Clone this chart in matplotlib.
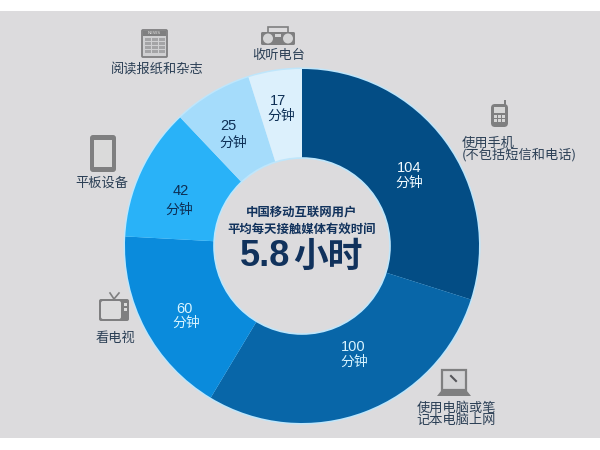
import matplotlib
matplotlib.use('Agg')
import matplotlib.pyplot as plt
from matplotlib.patches import Rectangle, FancyBboxPatch, Circle

plt.rcParams['font.family'] = ['Noto Sans CJK SC', 'DejaVu Sans']

minutes = [104, 100, 60, 42, 25, 17]
unit = '分钟'
slice_colors = ['#034d85', '#0866a8', '#0a8bdc', '#29b2f8', '#a5dcfb', '#dcf0fc']
text_colors = ['#f2fbff', '#d8f4ff', '#d8f4ff', '#0d2f55', '#0d2f55', '#0d2f55']
value_pos = [(409, 168), (353, 347), (184, 309), (181, 191), (228, 126), (278, 101)]
unit_pos = [(409, 183), (354, 362), (186, 323), (179, 210), (233, 143), (281, 116)]
categories = ['使用手机\n(不包括短信和电话)', '使用电脑或笔\n记本电脑上网', '看电视', '平板设备', '阅读报纸和杂志', '收听电台']

BG = '#dcdbdd'
GREY = '#7f7f80'
LABEL = '#2b3f55'
NAVY = '#11325c'
LABEL_SIZE = 9.5

fig = plt.figure(figsize=(6, 4.5), dpi=100, facecolor='white')
ax = fig.add_axes([0, 0, 1, 1])
ax.add_patch(Rectangle((0, 11), 600, 427, fc=BG, ec='none', zorder=0))

cx, cy, R, r = 302, 246, 177, 88
# pale halo around the ring
ax.add_patch(Circle((cx, cy), R + 1.5, fc='#bfe6fb', ec='none', zorder=1))
# the y axis runs downwards, so a rising angle from -90 goes clockwise on screen from the top
wedges, _ = ax.pie(minutes, colors=slice_colors, startangle=-90, counterclock=True,
                   center=(cx, cy), radius=R, frame=True,
                   wedgeprops=dict(width=R - r, linewidth=0))
for w in wedges:
    w.set_zorder(2)
ax.add_patch(Circle((cx, cy), r, fc=BG, ec='#bfe6fb', lw=1.2, zorder=3))

ax.set_xlim(0, 600)
ax.set_ylim(450, 0)
ax.set_aspect('auto')
ax.axis('off')

for v, c, p, q in zip(minutes, text_colors, value_pos, unit_pos):
    ax.text(*p, str(v), color=c, fontsize=10.5, ha='center', va='center',
            family=['Liberation Sans', 'DejaVu Sans'], zorder=5)
    ax.text(*q, unit, color=c, fontsize=10, ha='center', va='center', zorder=5)

# category labels
ax.text(462, 149.5, categories[0], color=LABEL, fontsize=LABEL_SIZE, ha='left', va='center', linespacing=0.92, zorder=5)
ax.text(456, 414.5, categories[1], color=LABEL, fontsize=LABEL_SIZE, ha='center', va='center', linespacing=0.92, zorder=5)
ax.text(115, 338, categories[2], color=LABEL, fontsize=LABEL_SIZE, ha='center', va='center', zorder=5)
ax.text(102, 183, categories[3], color=LABEL, fontsize=LABEL_SIZE, ha='center', va='center', zorder=5)
ax.text(157, 70, categories[4], color=LABEL, fontsize=LABEL_SIZE, ha='center', va='center', zorder=5)
ax.text(279, 55, categories[5], color=LABEL, fontsize=LABEL_SIZE, ha='center', va='center', zorder=5)

# centre text
ax.text(302, 212, '中国移动互联网用户', color=NAVY, fontsize=8.9, fontweight='bold', ha='center', va='center', zorder=5)
ax.text(302, 229, '平均每天接触媒体有效时间', color=NAVY, fontsize=8.9, fontweight='bold', ha='center', va='center', zorder=5)
ax.text(265, 257, '5.8', color=NAVY, fontsize=26, fontweight='bold', ha='center', va='center',
        family=['Liberation Sans', 'DejaVu Sans'], zorder=5)
ax.text(328, 256, '小时', color=NAVY, fontsize=25, fontweight='bold', ha='center', va='center', zorder=5)


def box(x, y, w, h, fc=GREY, ec='none', lw=0, rad=0.0):
    if rad:
        p = FancyBboxPatch((x + rad, y + rad), w - 2 * rad, h - 2 * rad,
                           boxstyle=f'round,pad={rad},rounding_size={rad}', fc=fc, ec=ec, lw=lw, zorder=5)
    else:
        p = Rectangle((x, y), w, h, fc=fc, ec=ec, lw=lw, zorder=5)
    ax.add_patch(p)


# radio
box(261, 32, 34, 13, rad=1.5)
box(268, 27, 20, 6, fc='none', ec=GREY, lw=1.2)
ax.add_patch(Circle((268, 38.5), 5, fc='#d5d5d6', ec='none', zorder=6))
ax.add_patch(Circle((288, 38.5), 5, fc='#d5d5d6', ec='none', zorder=6))
box(275, 34, 6, 3, fc='#d5d5d6')

# newspaper
box(142, 30, 25, 27, fc='#d0d0d2', ec=GREY, lw=1.3, rad=1)
box(143, 31, 23, 5, fc=GREY)
ax.text(154.5, 33.5, 'NEWS', color='#e0e0e0', fontsize=3.2, ha='center', va='center',
        family=['DejaVu Sans'], zorder=6)
for col in (145, 152, 159):
    for row in (38, 42, 46, 50):
        box(col, row, 5.5, 3, fc='#a4a4a6')

# tablet
box(90, 135, 26, 37, fc=GREY, rad=3)
box(94, 140, 18, 27, fc='#dadada')

# phone
box(491, 104, 17, 23, fc=GREY, rad=4)
box(494, 107, 11, 6, fc='#d6d6d6')
box(504, 100, 1.5, 5)
for col in (494, 498, 502):
    for row in (115, 119):
        box(col, row, 3, 3, fc='#d6d6d6')

# television
ax.plot([110, 114, 119], [293, 299, 293], color=GREY, lw=1.2, zorder=5)
box(99, 299, 30, 22, fc=GREY, rad=2)
box(101, 301, 20, 18, fc='#dcdcdc', rad=2)
box(124, 303, 2.5, 2.5, fc='#dcdcdc')
box(124, 308, 2.5, 2.5, fc='#dcdcdc')

# laptop
box(442, 370, 24, 20, fc='#d4d4d6', ec=GREY, lw=1.6)
ax.plot([451, 456], [376, 381], color='#55555a', lw=1.5, zorder=6)
ax.fill([441, 467, 471, 437], [391, 391, 396, 396], color=GREY, lw=0, zorder=5)

fig.savefig('out.png', dpi=100, facecolor='white')
